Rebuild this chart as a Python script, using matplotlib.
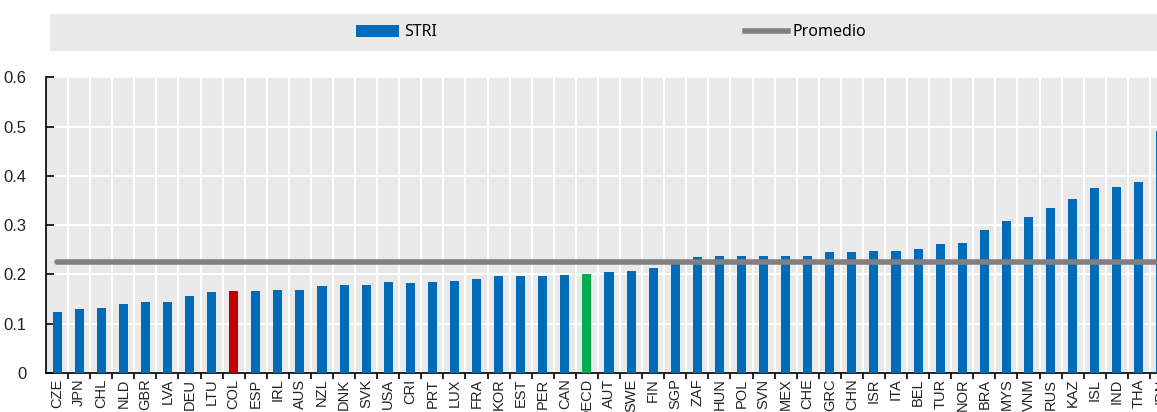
#Recreation of the STRI bar chart (Spanish version, country codes on the x axis)
import numpy as np
import matplotlib.pyplot as plt
from matplotlib.patches import Patch
from matplotlib.lines import Line2D

#Data
countries = ['CZE', 'JPN', 'CHL', 'NLD', 'GBR', 'LVA', 'DEU', 'LTU', 'COL', 'ESP',
             'IRL', 'AUS', 'NZL', 'DNK', 'SVK', 'USA', 'CRI', 'PRT', 'LUX', 'FRA',
             'KOR', 'EST', 'PER', 'CAN', 'OECD', 'AUT', 'SWE', 'FIN', 'SGP', 'ZAF',
             'HUN', 'POL', 'SVN', 'MEX', 'CHE', 'GRC', 'CHN', 'ISR', 'ITA', 'BEL',
             'TUR', 'NOR', 'BRA', 'MYS', 'VNM', 'RUS', 'KAZ', 'ISL', 'IND', 'THA', 'IDN']
stri = [0.124, 0.129, 0.131, 0.141, 0.145, 0.145, 0.157, 0.165, 0.167, 0.167,
        0.169, 0.169, 0.176, 0.178, 0.178, 0.184, 0.183, 0.185, 0.186, 0.190,
        0.196, 0.196, 0.196, 0.198, 0.200, 0.204, 0.207, 0.214, 0.224, 0.235,
        0.237, 0.237, 0.237, 0.238, 0.238, 0.245, 0.246, 0.247, 0.248, 0.252,
        0.262, 0.264, 0.290, 0.309, 0.317, 0.334, 0.354, 0.375, 0.378, 0.388, 0.492]
promedio = 0.226
highlight = {'COL': '#C00000', 'OECD': '#00AC4E'}

blue = '#006BB6'
bg = '#E9E9E9'

plt.rcParams['font.family'] = 'Liberation Sans'

fig = plt.figure(figsize=(11.57, 4.12), dpi=100)

#axes runs past the right edge of the figure, so the last bar is cut like in the original
W, H = 1157.0, 412.0
left, right, bottom, top = 46, 1172, 373, 77.3
ax = fig.add_axes([left / W, (H - bottom) / H, (right - left) / W, (bottom - top) / H])
ax.set_facecolor(bg)

x = np.arange(len(countries))
colors = [highlight.get(c, blue) for c in countries]
ax.bar(x, stri, width=0.41, color=colors, zorder=3)
ax.plot([x[0], x[-1]], [promedio, promedio], color='#808080', lw=4,
        solid_capstyle='round', zorder=4)

ax.set_xlim(-0.5, len(countries) - 0.5)
ax.set_ylim(0, 0.6)
ax.set_yticks(np.arange(0, 0.61, 0.1))
ax.set_yticklabels(['0', '0.1', '0.2', '0.3', '0.4', '0.5', '0.6'])
ax.set_xticks(x)
ax.set_xticklabels(countries, rotation=90)
ax.set_xticks(x[:-1] + 0.5, minor=True)

#white grid: vertical lines between categories, horizontal at the y ticks
ax.grid(axis='y', which='major', color='white', lw=1.5, zorder=0)
ax.grid(axis='x', which='minor', color='white', lw=1.5, zorder=0)
ax.set_axisbelow(True)

for s in ['top', 'right']:
    ax.spines[s].set_visible(False)
ax.spines['left'].set_linewidth(1.2)
ax.spines['bottom'].set_linewidth(1.2)

ax.tick_params(axis='x', which='major', length=0, pad=4, labelsize=10.5,
               labelcolor='#222222')
ax.tick_params(axis='x', which='minor', direction='out', length=4, width=1.2)
ax.tick_params(axis='y', direction='in', length=6, width=1.2, pad=14,
               labelsize=12, labelcolor='#222222')

#legend band on top
lax = fig.add_axes([50 / W, (H - 51) / H, (W - 50) / W, 37 / H])
lax.set_facecolor(bg)
lax.set_xticks([])
lax.set_yticks([])
for s in lax.spines.values():
    s.set_visible(False)
handles = [Patch(facecolor=blue, label='STRI'),
           Line2D([0], [0], color='#808080', lw=4, label='Promedio')]
leg = lax.legend(handles=handles, loc='center', ncol=2, frameon=False,
                 handlelength=2.7, handletextpad=0.3, columnspacing=19.25,
                 prop={'family': 'Noto Sans', 'size': 11.5},
                 bbox_to_anchor=(0.507, 0.5))

fig.savefig('out.png', dpi=100)
